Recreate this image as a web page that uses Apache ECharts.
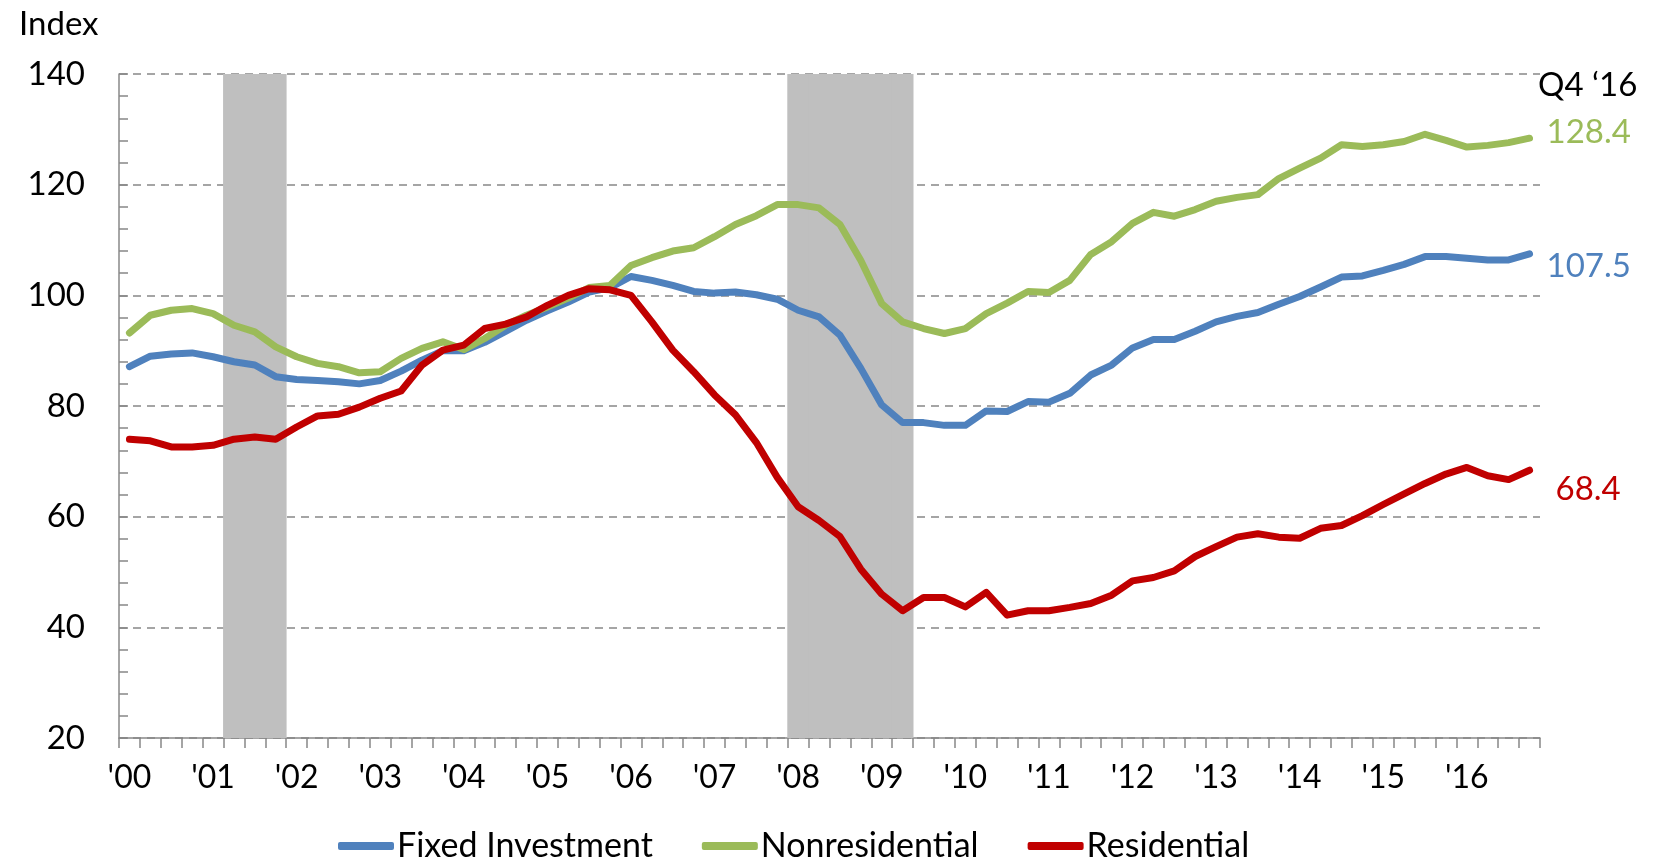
<!DOCTYPE html>
<html>
<head>
<meta charset="utf-8">
<script src="https://cdn.jsdelivr.net/npm/echarts@6/dist/echarts.min.js"></script>
<style>
  html, body { margin: 0; padding: 0; background: #fff; }
  #box { width: 1657px; height: 860px; }
</style>
</head>
<body>
<div id="box"></div>
<script>
// quarters 2000 Q1 .. 2016 Q4
var years = ["'00", "'01", "'02", "'03", "'04", "'05", "'06", "'07", "'08", "'09", "'10", "'11", "'12", "'13", "'14", "'15", "'16"];
var quarters = ['Q1', 'Q2', 'Q3', 'Q4'];
var categories = [];
years.forEach(function (y) {
  quarters.forEach(function (q) { categories.push(y + ' ' + q); });
});

// shaded recession quarters
var recessionQuarters = ["'01 Q2", "'01 Q3", "'01 Q4", "'08 Q1", "'08 Q2", "'08 Q3", "'08 Q4", "'09 Q1", "'09 Q2"];

var fixedInvestment = [87.1, 89.0, 89.4, 89.6, 88.9, 88.0, 87.4, 85.3, 84.8, 84.6, 84.4, 84.0, 84.6, 86.3, 88.3, 90.0,
  90.0, 91.5, 93.5, 95.5, 97.2, 98.8, 100.6, 101.4, 103.4, 102.7, 101.8, 100.7, 100.4, 100.6, 100.1, 99.3,
  97.3, 96.1, 92.8, 86.8, 80.2, 77.0, 77.0, 76.5, 76.5, 79.1, 79.0, 80.8, 80.7, 82.3, 85.6, 87.4,
  90.5, 92.0, 92.0, 93.5, 95.2, 96.2, 96.9, 98.4, 99.8, 101.5, 103.3, 103.5, 104.5, 105.6, 107.0, 107.0,
  106.7, 106.4, 106.4, 107.5];
var nonresidential = [93.2, 96.4, 97.3, 97.6, 96.7, 94.6, 93.4, 90.7, 88.9, 87.7, 87.1, 86.0, 86.2, 88.6, 90.4, 91.6,
  90.2, 92.2, 94.6, 96.4, 97.9, 99.5, 101.4, 101.8, 105.4, 106.8, 108.0, 108.6, 110.6, 112.8, 114.4, 116.4,
  116.4, 115.8, 112.8, 106.3, 98.5, 95.2, 94.0, 93.1, 94.0, 96.7, 98.6, 100.7, 100.5, 102.7, 107.4, 109.7,
  113.0, 115.0, 114.3, 115.5, 117.0, 117.7, 118.2, 121.1, 123.0, 124.8, 127.2, 126.9, 127.2, 127.8, 129.1, 128.0,
  126.8, 127.1, 127.6, 128.4];
var residential = [74.0, 73.7, 72.6, 72.6, 72.9, 74.0, 74.4, 74.0, 76.2, 78.2, 78.5, 79.8, 81.4, 82.7, 87.4, 90.1,
  91.0, 94.0, 94.8, 96.1, 98.2, 100.0, 101.2, 101.0, 100.0, 95.2, 90.1, 86.2, 82.0, 78.4, 73.4, 67.1,
  61.8, 59.3, 56.4, 50.5, 46.0, 43.0, 45.4, 45.4, 43.7, 46.3, 42.2, 43.0, 43.0, 43.6, 44.3, 45.8,
  48.4, 49.0, 50.2, 52.8, 54.6, 56.3, 56.9, 56.3, 56.1, 57.9, 58.4, 60.2, 62.2, 64.1, 66.0, 67.7,
  68.9, 67.4, 66.7, 68.4];

var yMin = 20, yMax = 140, yStep = 20;

var colors = ['#4F81BD', '#9BBB59', '#C00000'];
var font = 'Lato, "Open Sans", sans-serif';

var shade = categories.map(function (c) {
  return recessionQuarters.indexOf(c) >= 0 ? yMax : null;
});

var myChart = echarts.init(document.getElementById('box'));

function lineSeries(name, data, color, offset) {
  return {
    name: name,
    type: 'line',
    data: data,
    symbol: 'none',
    silent: true,
    lineStyle: { width: 7, color: color, cap: 'round', join: 'round' },
    itemStyle: { color: color },
    endLabel: {
      show: true,
      distance: 0,
      offset: offset,
      color: color,
      fontFamily: font,
      fontSize: 33,
      formatter: function (p) { return p.value.toFixed(1); }
    }
  };
}

var option = {
  animation: false,
  color: colors,
  title: {
    text: 'Index',
    left: 14,
    top: 3,
    textStyle: { fontFamily: font, fontSize: 33, fontWeight: 'normal', color: '#000' }
  },
  legend: {
    data: ['Fixed Investment', 'Nonresidential', 'Residential'],
    left: 333,
    top: 824,
    icon: 'roundRect',
    itemWidth: 56,
    itemHeight: 8,
    itemGap: 49,
    textStyle: { fontFamily: font, fontSize: 34, color: '#000', padding: [0, 0, 0, -2] }
  },
  grid: {
    left: 119,
    right: 117,
    top: 74,
    bottom: 122,
    outerBoundsMode: 'none'
  },
  graphic: [{
    type: 'text',
    left: 1538,
    top: 69,
    style: { text: 'Q4 \u201816', font: '33px ' + font, fill: '#000' }
  }],
  xAxis: {
    type: 'category',
    data: categories,
    boundaryGap: true,
    axisLine: { lineStyle: { color: '#888', width: 1.5 } },
    axisTick: { show: true, interval: 0, length: 10, lineStyle: { color: '#888', width: 1.5 } },
    axisLabel: {
      interval: 3,
      margin: 24,
      fontFamily: font,
      fontSize: 32,
      color: '#000',
      formatter: function (v) { return v.split(' ')[0]; }
    },
    splitLine: { show: false }
  },
  yAxis: {
    type: 'value',
    min: yMin,
    max: yMax,
    interval: yStep,
    axisLine: { show: true, lineStyle: { color: '#888', width: 1.5 } },
    axisTick: { show: true, inside: true, length: 9, lineStyle: { color: '#888', width: 1.5 } },
    minorTick: { show: true, splitNumber: 5, length: 9, lineStyle: { color: '#888', width: 1.5 } },
    axisLabel: { margin: 34, fontFamily: font, fontSize: 33, color: '#000' },
    splitLine: { show: true, lineStyle: { color: '#888', width: 1.5, type: [8, 6] } }
  },
  series: [
    {
      name: 'Recession',
      type: 'bar',
      data: shade,
      barWidth: '104%',
      silent: true,
      itemStyle: { color: '#BFBFBF' }
    },
    lineSeries('Fixed Investment', fixedInvestment, colors[0], [17, 13]),
    lineSeries('Nonresidential', nonresidential, colors[1], [17, -6]),
    lineSeries('Residential', residential, colors[2], [26, 19])
  ]
};

option && myChart.setOption(option);
</script>
</body>
</html>
